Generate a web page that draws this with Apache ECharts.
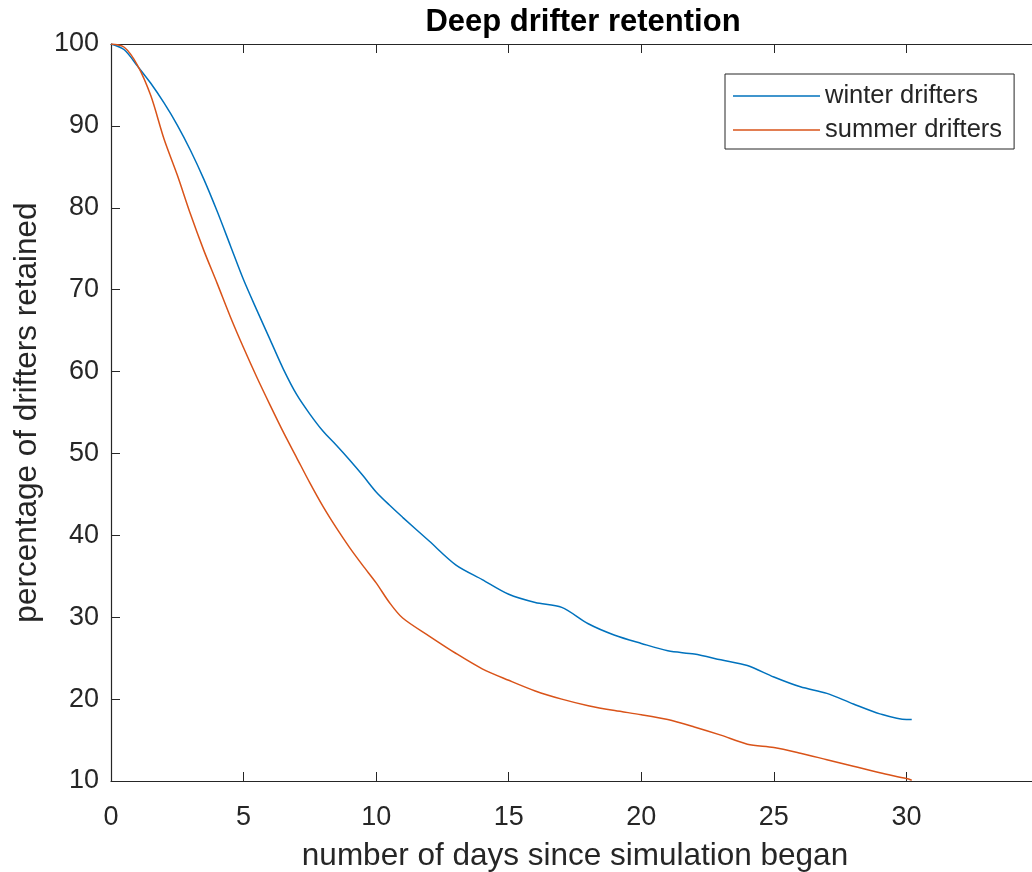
<!DOCTYPE html>
<html style="height: 100%">
<head>
<meta charset="utf-8">
<script src="https://cdn.jsdelivr.net/npm/echarts@6/dist/echarts.min.js"></script>
</head>
<body style="height: 100%; margin: 0; background: #fff">
<div id="container" style="width: 1032px; height: 872px"></div>
<script type="text/javascript">
// days since release
var days = [0, 0.5, 1, 1.5, 2, 2.5, 3, 3.5, 4, 4.5, 5, 5.5, 6, 6.5, 7, 7.5, 8, 8.5, 9, 9.5,
            10, 10.5, 11, 12, 13, 14, 15, 16, 17, 18, 19, 20, 21, 22, 23, 24, 25, 26, 27, 28, 29, 30, 30.2];
var winter = [100, 99.3, 97.3, 95.2, 92.8, 90.1, 87.0, 83.5, 79.6, 75.4, 71.2, 67.5, 63.9, 60.3, 57.2, 54.8, 52.7, 51.0, 49.2, 47.3,
              45.3, 43.7, 42.2, 39.3, 36.4, 34.6, 32.8, 31.8, 31.2, 29.2, 27.8, 26.8, 25.9, 25.5, 24.8, 24.1, 22.7, 21.5, 20.7, 19.4, 18.2, 17.5, 17.5];
var summer = [100, 99.6, 97.4, 93.7, 88.4, 84.0, 79.2, 74.8, 70.8, 66.7, 62.9, 59.3, 55.9, 52.6, 49.5, 46.4, 43.5, 40.9, 38.5, 36.3,
              34.2, 31.8, 29.9, 27.7, 25.6, 23.7, 22.3, 21.0, 20.0, 19.2, 18.6, 18.1, 17.5, 16.6, 15.6, 14.5, 14.1, 13.4, 12.6, 11.8, 11.0, 10.3, 10.1];
var seriesNames = ['winter drifters', 'summer drifters'];

function pairs(vals) {
    return days.map(function (d, i) { return [d, vals[i]]; });
}

var axisCol = '#262626';
var font = 'Liberation Sans, Arial, Helvetica, sans-serif';

var myChart = echarts.init(document.getElementById('container'));
var option = {
    animation: false,
    backgroundColor: '#fff',
    title: {
        text: 'Deep drifter retention',
        left: 578,
        textAlign: 'center',
        top: 2,
        textStyle: { fontFamily: font, fontSize: 31, fontWeight: 'bold', color: '#000' }
    },
    legend: {
        orient: 'vertical',
        left: 725,
        top: 74,
        padding: [9, 12, 6, 8],
        icon: 'rect',
        itemWidth: 87,
        itemHeight: 1.5,
        itemGap: 8,
        borderColor: axisCol,
        borderWidth: 1,
        borderRadius: 0,
        backgroundColor: '#fff',
        textStyle: { fontFamily: font, fontSize: 25.5, color: axisCol },
        data: seriesNames
    },
    grid: { left: 111, right: -7, top: 44, bottom: 91, outerBoundsMode: 'none' },
    xAxis: [{
        type: 'value',
        min: 0, max: 35, interval: 5,
        name: 'number of days since simulation began',
        nameLocation: 'middle',
        nameGap: 59,
        nameTextStyle: { fontFamily: font, fontSize: 31.5, color: axisCol },
        axisLine: { lineStyle: { color: axisCol, width: 1.2 } },
        axisTick: { inside: true, length: 9, lineStyle: { color: axisCol } },
        axisLabel: { fontFamily: font, fontSize: 27, color: axisCol, margin: 23,
            formatter: function (v) { return v >= 35 ? '' : v; } },
        splitLine: { show: false }
    }, {
        type: 'value',
        position: 'top',
        min: 0, max: 35, interval: 5,
        axisLine: { lineStyle: { color: axisCol, width: 1.2 } },
        axisTick: { inside: true, length: 9, lineStyle: { color: axisCol } },
        axisLabel: { show: false },
        splitLine: { show: false }
    }],
    yAxis: {
        type: 'value',
        min: 10, max: 100, interval: 10,
        name: 'percentage of drifters retained',
        nameLocation: 'middle',
        nameGap: 63,
        nameTextStyle: { fontFamily: font, fontSize: 31.5, color: axisCol },
        axisLine: { show: true, lineStyle: { color: axisCol, width: 1.2 } },
        axisTick: { show: true, inside: true, length: 9, lineStyle: { color: axisCol } },
        axisLabel: { fontFamily: font, fontSize: 27, color: axisCol, margin: 12 },
        splitLine: { show: false }
    },
    series: [{
        name: seriesNames[0],
        type: 'line',
        smooth: 0.3,
        symbol: 'none',
        color: '#0072BD',
        lineStyle: { width: 1.5 },
        data: pairs(winter)
    }, {
        name: seriesNames[1],
        type: 'line',
        smooth: 0.3,
        symbol: 'none',
        color: '#D95319',
        lineStyle: { width: 1.5 },
        data: pairs(summer)
    }]
};
myChart.setOption(option);
</script>
</body>
</html>
